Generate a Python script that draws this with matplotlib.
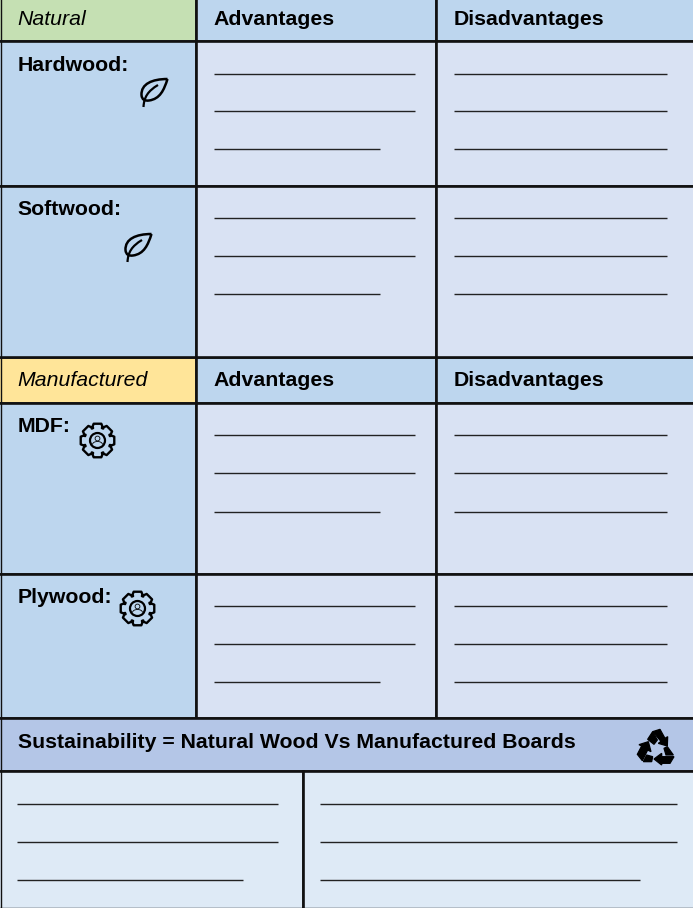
import numpy as np
import matplotlib
matplotlib.use("Agg")
import matplotlib.pyplot as plt
from matplotlib.patches import Rectangle, PathPatch, Circle, Polygon, Arc
from matplotlib.path import Path

plt.rcParams['font.family'] = ['Liberation Sans', 'DejaVu Sans']

section_names = ["Natural", "Manufactured"]
column_names = ["Advantages", "Disadvantages"]
wood_names = ["Hardwood:", "Softwood:", "MDF:", "Plywood:"]
banner_text = "Sustainability = Natural Wood Vs Manufactured Boards"

GREEN = "#C5E0B3"
YELLOW = "#FFE599"
BLUE = "#BDD6EE"
PALE = "#D9E2F3"
BANNER = "#B4C6E7"
BOTTOM = "#DEEAF6"
LW = 1.9
FS = 15.35

fig = plt.figure(figsize=(6.93, 9.08), dpi=100)
ax = fig.add_axes([0, 0, 1, 1])
ax.set_xlim(0, 693)
ax.set_ylim(908, 0)
ax.axis("off")


def cell(x0, y0, x1, y1, color):
    ax.add_patch(Rectangle((x0, y0), x1 - x0, y1 - y0, facecolor=color,
                           edgecolor="#111111", linewidth=LW))


def blanks(x0, x1, x_short, ys):
    # two long writing lines and a shorter third one
    for i, y in enumerate(ys):
        end = x_short if i == 2 else x1
        ax.plot([x0, end], [y, y], color="#222222", linewidth=1.0, solid_capstyle="butt")


def leaf(dx, dy):
    verts = [(167.5, 79), (152, 79), (141, 84), (141.5, 95),
             (142, 100), (145, 101), (149, 100.5),
             (160, 99), (164, 90), (167.5, 79)]
    codes = [Path.MOVETO] + [Path.CURVE4] * 9
    ax.add_patch(PathPatch(Path([(x + dx, y + dy) for x, y in verts], codes),
                           facecolor="none", edgecolor="black", linewidth=1.8))
    vein = [(143.5, 107), (144, 97), (148, 91), (158, 85)]
    vein_codes = [Path.MOVETO, Path.CURVE4, Path.CURVE4, Path.CURVE4]
    ax.add_patch(PathPatch(Path([(x + dx, y + dy) for x, y in vein], vein_codes),
                           facecolor="none", edgecolor="black", linewidth=1.6))


def gear(cx, cy):
    pts = []
    for i in range(8):
        a = i * np.pi / 4 - np.pi / 2
        w = np.pi / 14
        pts.append((a - 2.0 * w, 13.2))
        pts.append((a - w, 17.2))
        pts.append((a + w, 17.2))
        pts.append((a + 2.0 * w, 13.2))
    outline = [(cx + r * np.cos(a), cy + r * np.sin(a)) for a, r in pts]
    ax.add_patch(Polygon(outline, closed=True, facecolor="none", edgecolor="black",
                         linewidth=1.7, joinstyle="round"))
    ax.add_patch(Circle((cx, cy), 7.5, facecolor="none", edgecolor="black", linewidth=1.6))
    ax.add_patch(Circle((cx, cy - 2), 2.4, facecolor="none", edgecolor="black", linewidth=0.6))
    ax.add_patch(Arc((cx, cy + 4), 10, 6, theta1=180, theta2=360, edgecolor="black", linewidth=0.6))


def recycle():
    shapes = [
        [(218, 65), (240, 58), (255, 85), (263, 80), (262, 108), (235, 100), (243, 94)],
        [(205, 95), (213, 125), (203, 120), (187, 152), (172, 133), (185, 108), (177, 104)],
        [(222, 147), (245, 130), (245, 140), (282, 140), (270, 160), (245, 160), (245, 165)],
        [(203, 88), (218, 65), (232, 90), (222, 103)],
        [(262, 110), (280, 135), (258, 135), (252, 115)],
        [(190, 155), (200, 135), (218, 140), (215, 155)],
    ]
    for s in shapes:
        ax.add_patch(Polygon([(580 + x / 3, 710 + y / 3) for x, y in s], closed=True,
                             facecolor="black", edgecolor="black", linewidth=0.9))


# table cells
cell(-2, -2, 196, 41, GREEN)
cell(196, -2, 436, 41, BLUE)
cell(436, -2, 695, 41, BLUE)

cell(-2, 357, 196, 403, YELLOW)
cell(196, 357, 436, 403, BLUE)
cell(436, 357, 695, 403, BLUE)

for top, bot in [(41, 186), (186, 357), (403, 574), (574, 718)]:
    cell(-2, top, 196, bot, BLUE)
    cell(196, top, 436, bot, PALE)
    cell(436, top, 695, bot, PALE)

cell(-2, 718, 695, 771, BANNER)
cell(-2, 771, 303, 910, BOTTOM)
cell(303, 771, 695, 910, BOTTOM)

# left border as in the reference
ax.plot([0.5, 0.5], [0, 908], color="#111111", linewidth=1.0)
ax.plot([0, 693], [907.5, 907.5], color="#111111", linewidth=1.0)

# headers
for name, y in zip(section_names, [25, 386]):
    ax.text(17.5, y, name, fontsize=FS, style="italic", va="baseline", color="black")
    ax.text(213.5, y, column_names[0], fontsize=FS, weight="bold", va="baseline", color="black")
    ax.text(453.5, y, column_names[1], fontsize=FS, weight="bold", va="baseline", color="black")

for name, y in zip(wood_names, [71, 215, 432, 603]):
    ax.text(17.5, y, name, fontsize=FS, weight="bold", va="baseline", color="black")

ax.text(17.5, 748, banner_text, fontsize=FS, weight="bold", va="baseline", color="black")

# writing lines
for ys in [[74, 111, 149], [218, 256, 294], [435, 473, 512], [606, 644, 682]]:
    blanks(214, 415, 380, ys)
    blanks(454, 667, 667, ys)
blanks(17, 278, 243, [804, 842, 880])
blanks(320, 677, 640, [804, 842, 880])

# icons
leaf(0, 0)
leaf(-16, 155)
gear(97.5, 440.5)
gear(137.5, 608.5)
recycle()

fig.savefig("out.png", dpi=100)
